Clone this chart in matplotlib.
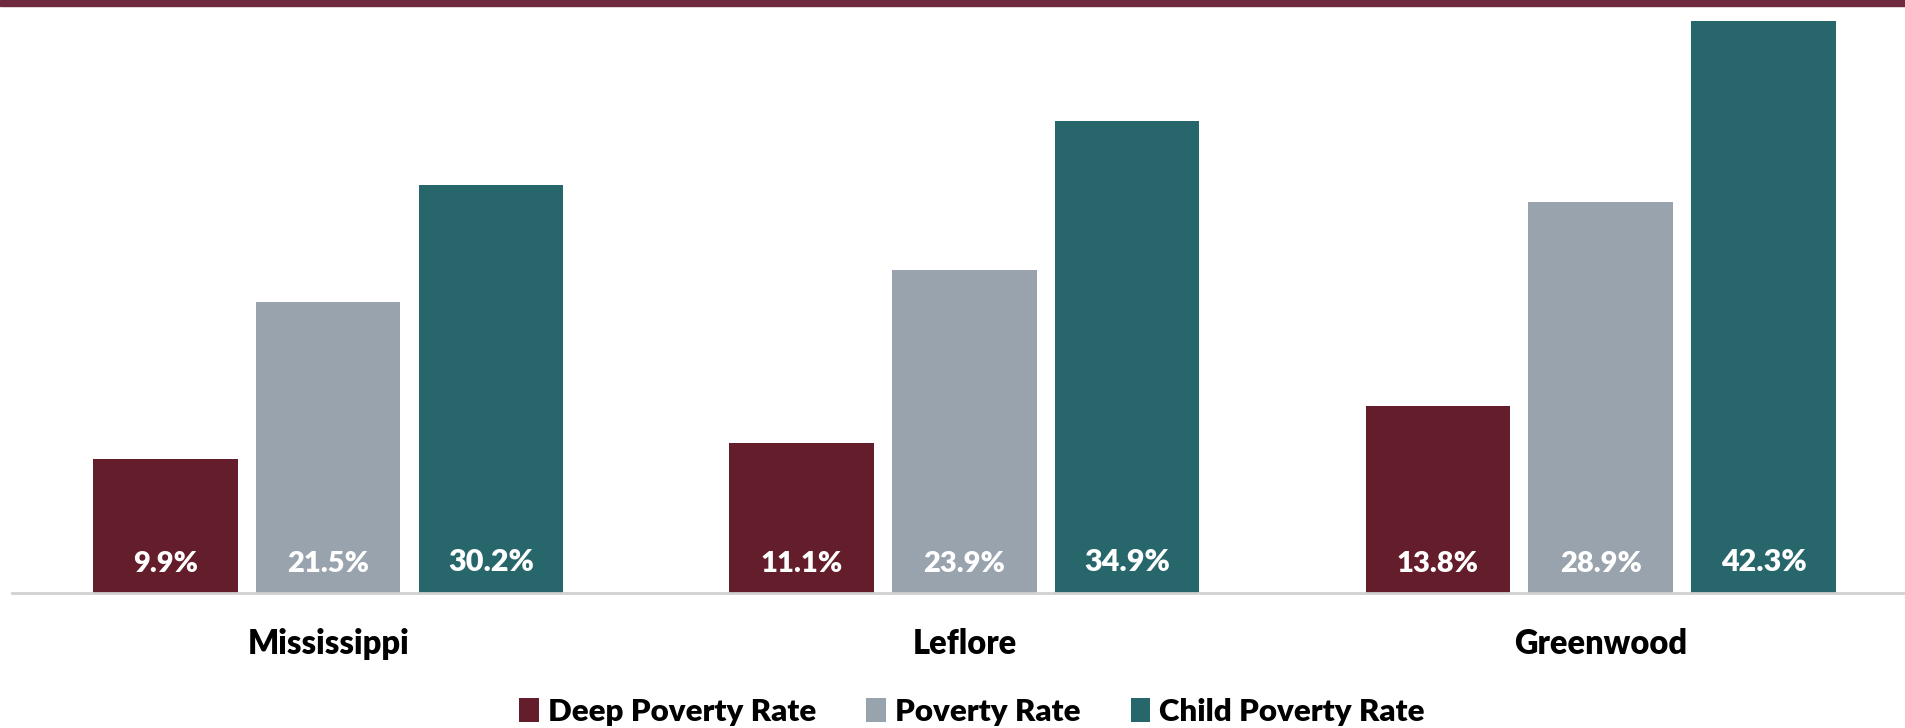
import numpy as np
import matplotlib.pyplot as plt
from matplotlib.patches import Rectangle

plt.rcParams['font.family'] = ['Lato', 'DejaVu Sans']

places = ['Mississippi', 'Leflore', 'Greenwood']
series = ['Deep Poverty Rate', 'Poverty Rate', 'Child Poverty Rate']
deep = [9.9, 11.1, 13.8]
poverty = [21.5, 23.9, 28.9]
child = [30.2, 34.9, 42.3]

colors = ['#641d2a', '#99a3ad', '#27676c']
W, H = 1906, 728

fig = plt.figure(figsize=(W / 100, H / 100), dpi=100)
# axes placed in pixel terms: baseline at y=593, left at x=12
ax = fig.add_axes([12 / W, (H - 593) / H, 1 - 12 / W, (593 - 14) / H])

x = np.arange(len(places))
width = 0.227
pitch = 0.256
for k, (name, vals) in enumerate(zip(series, [deep, poverty, child])):
    pos = x + (k - 1) * pitch
    ax.bar(pos, vals, width, color=colors[k], label=name, zorder=2)
    fs = 22 if k == 2 else 21
    for p, v in zip(pos, vals):
        ax.annotate(f'{v}%', xy=(p, 0), xytext=(0, 22 if k == 2 else 21),
                    textcoords='offset points', ha='center', va='center',
                    color='white', fontsize=fs, fontweight='heavy', zorder=3)

ax.set_xlim(-0.497, 2.48)
ax.set_ylim(0, 42.82)
ax.set_xticks(x)
ax.set_xticklabels(places, fontsize=23.5, fontweight='heavy')
ax.tick_params(axis='x', length=0, pad=25)
ax.set_yticks([])
for s in ['top', 'right', 'left']:
    ax.spines[s].set_visible(False)
ax.spines['bottom'].set_color('#d0d0d0')
ax.spines['bottom'].set_linewidth(2)

# maroon rule across the top
fig.add_artist(Rectangle((0, 1 - 6 / H), 1, 6 / H, transform=fig.transFigure,
                         color='#6e2a3e', zorder=5))

fig.legend(loc='center', bbox_to_anchor=(0.51, 1 - 712 / H), ncol=3,
           frameon=False, prop={'size': 22.5, 'weight': 'heavy'},
           handlelength=0.62, handleheight=0.82, handletextpad=0.3,
           columnspacing=1.6)

fig.savefig('out.png', dpi=100)
